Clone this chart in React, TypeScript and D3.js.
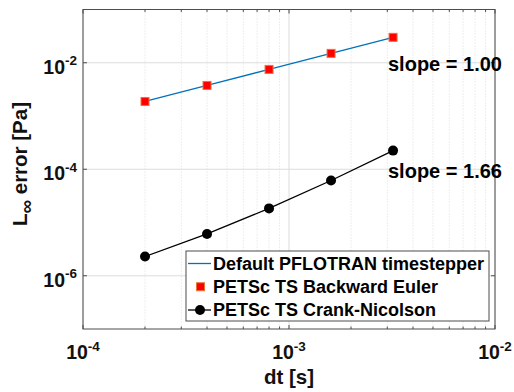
import * as React from 'react';
import * as d3 from 'd3';

const dt = [2e-4, 4e-4, 8e-4, 1.6e-3, 3.2e-3];
const errDefault = [1.875e-3, 3.75e-3, 7.5e-3, 1.5e-2, 3.0e-2];
const errBackwardEuler = [1.875e-3, 3.75e-3, 7.5e-3, 1.5e-2, 3.0e-2];
const errCrankNicolson = [2.3e-6, 6.1e-6, 1.84e-5, 6.15e-5, 2.24e-4];
const xTickExps = [-4, -3, -2];
const yTickExps = [-6, -4, -2];
const legendLabels = ['Default PFLOTRAN timestepper', 'PETSc TS Backward Euler', 'PETSc TS Crank-Nicolson'];
const slopeLabels = ['slope = 1.00', 'slope = 1.66'];

const W = 514, H = 392;
const m = { left: 83, right: 495, top: 9.5, bottom: 329 };
const font = 'Liberation Sans, Arial, sans-serif';

const App: React.FC = () => {
    const x = d3.scaleLog().domain([1e-4, 1e-2]).range([m.left, m.right]);
    const y = d3.scaleLog().domain([1e-7, 1e-1]).range([m.bottom, m.top]);

    // minor x ticks 2..9 per decade
    const minorX: number[] = [];
    for (let e = -4; e < -2; e++) {
        for (let k = 2; k <= 9; k++) minorX.push(k * Math.pow(10, e));
    }

    const line = d3.line<number>()
        .x((_d, i) => x(dt[i]))
        .y(d => y(d));

    const axisColor = '#4d4d4d';
    const gridColor = '#dcdcdc';
    const textColor = '#111';

    return (
        <svg width={W} height={H} style={{ position: 'absolute', left: 0, top: 0, background: '#fff' }}
            fontFamily={font} fontWeight="bold">
            {/* grid */}
            {minorX.map((v, i) => (
                <line key={'mg' + i} x1={x(v)} x2={x(v)} y1={m.top} y2={m.bottom}
                    stroke={gridColor} strokeWidth={1} strokeDasharray="1,2" />
            ))}
            {xTickExps.map(e => (
                <line key={'xg' + e} x1={x(Math.pow(10, e))} x2={x(Math.pow(10, e))} y1={m.top} y2={m.bottom}
                    stroke={gridColor} strokeWidth={1} />
            ))}
            {yTickExps.map(e => (
                <line key={'yg' + e} x1={m.left} x2={m.right} y1={y(Math.pow(10, e))} y2={y(Math.pow(10, e))}
                    stroke={gridColor} strokeWidth={1} />
            ))}

            {/* series */}
            <path d={line(errDefault) || ''} fill="none" stroke="#0072BD" strokeWidth={1.3} />
            {errBackwardEuler.map((v, i) => (
                <rect key={'be' + i} x={x(dt[i]) - 4} y={y(v) - 4} width={8} height={8}
                    fill="#ff0000" stroke="#e8743a" strokeWidth={1} />
            ))}
            <path d={line(errCrankNicolson) || ''} fill="none" stroke="#000" strokeWidth={1.3} />
            {errCrankNicolson.map((v, i) => (
                <circle key={'cn' + i} cx={x(dt[i])} cy={y(v)} r={5} fill="#000" />
            ))}

            {/* axes box */}
            <rect x={m.left} y={m.top} width={m.right - m.left} height={m.bottom - m.top}
                fill="none" stroke={axisColor} strokeWidth={1} />
            {minorX.map((v, i) => (
                <g key={'mt' + i} stroke={axisColor}>
                    <line x1={x(v)} x2={x(v)} y1={m.bottom} y2={m.bottom - 2.5} />
                    <line x1={x(v)} x2={x(v)} y1={m.top} y2={m.top + 2.5} />
                </g>
            ))}
            {xTickExps.map(e => (
                <g key={'xt' + e} stroke={axisColor}>
                    <line x1={x(Math.pow(10, e))} x2={x(Math.pow(10, e))} y1={m.bottom} y2={m.bottom - 4} />
                    <line x1={x(Math.pow(10, e))} x2={x(Math.pow(10, e))} y1={m.top} y2={m.top + 4} />
                </g>
            ))}
            {yTickExps.map(e => (
                <g key={'yt' + e} stroke={axisColor}>
                    <line x1={m.left} x2={m.left + 4} y1={y(Math.pow(10, e))} y2={y(Math.pow(10, e))} />
                    <line x1={m.right} x2={m.right - 4} y1={y(Math.pow(10, e))} y2={y(Math.pow(10, e))} />
                </g>
            ))}

            {/* tick labels */}
            {xTickExps.map(e => (
                <text key={'xl' + e} x={x(Math.pow(10, e))} y={359} textAnchor="middle" fontSize={19.5} fill={textColor}>
                    <tspan>10</tspan>
                    <tspan dy={-8.5} fontSize={13.5}>{String(e)}</tspan>
                </text>
            ))}
            {yTickExps.map(e => (
                <text key={'yl' + e} x={77} y={y(Math.pow(10, e)) + 11} textAnchor="end" fontSize={19.5} fill={textColor}>
                    <tspan>10</tspan>
                    <tspan dy={-8.5} fontSize={13.5}>{String(e)}</tspan>
                </text>
            ))}

            {/* axis titles */}
            <text x={(m.left + m.right) / 2} y={384} textAnchor="middle" fontSize={20.5} fill={textColor}>dt [s]</text>
            <text transform="translate(27,164) rotate(-90)" textAnchor="middle"
                fontSize={20.5} fill={textColor}>
                <tspan>L</tspan>
                <tspan dy={6} fontSize={19}>∞</tspan>
                <tspan dy={-6}> error [Pa]</tspan>
            </text>

            {/* slope annotations */}
            <text x={388} y={71} fontSize={20} fill="#000">{slopeLabels[0]}</text>
            <text x={388} y={178} fontSize={20} fill="#000">{slopeLabels[1]}</text>

            {/* legend */}
            <g>
                <rect x={186} y={251} width={303} height={70} fill="#fff" stroke={axisColor} strokeWidth={1} />
                {legendLabels.map((label, i) => {
                    const cy = 263.5 + i * 23.25;
                    return (
                        <g key={'lg' + i}>
                            {i === 0 && <line x1={188} x2={211} y1={cy} y2={cy} stroke="#0072BD" strokeWidth={1.3} />}
                            {i === 1 && <rect x={196.5} y={cy - 4} width={8} height={8} fill="#ff0000" stroke="#e8743a" />}
                            {i === 2 && (
                                <g>
                                    <line x1={188} x2={211} y1={cy} y2={cy} stroke="#000" strokeWidth={1.3} />
                                    <circle cx={200} cy={cy} r={5} fill="#000" />
                                </g>
                            )}
                            <text x={213} y={cy + 6} fontSize={18} fill="#000">{label}</text>
                        </g>
                    );
                })}
            </g>
        </svg>
    );
};

export default App;
